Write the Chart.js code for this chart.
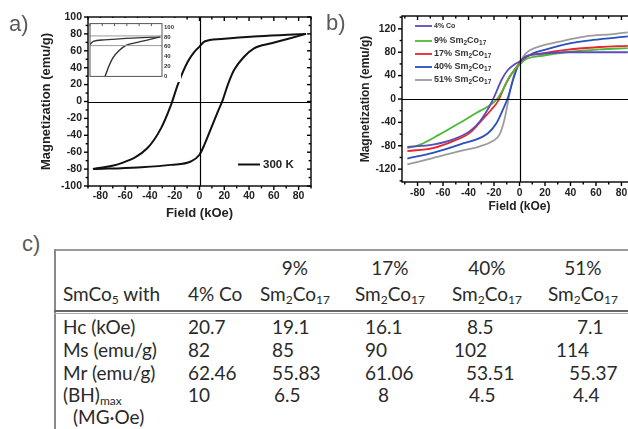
<!DOCTYPE html>
<html>
<head>
<meta charset="utf-8">
<script src="https://cdn.jsdelivr.net/npm/chart.js@4.4.1/dist/chart.umd.min.js"></script>
<style>
  html, body { margin: 0; padding: 0; background: #fff; }
  #page { position: relative; width: 628px; height: 429px; overflow: hidden; background: #fff; }
  canvas { position: absolute; }
  .tag { position: absolute; font-family: "Liberation Sans", Arial, sans-serif; font-size: 22px; color: #5a5a5a; line-height: 1; }
  .cell { position: absolute; font-family: Lato, "Noto Sans", sans-serif; font-size: 19px; color: #2a2a2a; white-space: nowrap; line-height: 22px; }
  .cell sub { font-size: 12px; vertical-align: -3px; line-height: 0; }
  .head { text-align: center; line-height: 26px; }
  #boxTop { position: absolute; left: 54px; top: 249px; width: 580px; height: 0; border-top: 2px solid #9a9a9a; }
  #boxLeft { position: absolute; left: 54px; top: 249px; width: 0; height: 190px; border-left: 2px solid #8a8a8a; }
  #rule { position: absolute; left: 54px; top: 310px; width: 580px; height: 1px; border-top: 2px solid #666; border-bottom: 1px solid #aaa; }
</style>
</head>
<body>
<div id="page">
  <canvas id="chartA" width="320" height="225" style="left:0;top:0"></canvas>
  <canvas id="insetA" width="92" height="64" style="left:89px;top:18px;background:#fff"></canvas>
  <canvas id="chartB" width="310" height="215" style="left:330px;top:0"></canvas>
  <div class="tag" style="left:9px;top:13px">a)</div>
  <div class="tag" style="left:326px;top:12px">b)</div>
  <div class="tag" style="left:22px;top:233px">c)</div>
  <div id="boxTop"></div>
  <div id="boxLeft"></div>
  <div id="rule"></div>
  <div id="table"></div>
</div>
<script>
    'use strict';

    // ===========================================
    // DATA - a) hysteresis loop, 300 K
    // ===========================================
    const fieldUpperA = [-86, -63, -42, -31, -23, -17.5, -9.5, -4, 0, 4, 17.5, 44, 71, 86];
    const magUpperA   = [-80, -73, -55, -31.5, -4, 20, 47, 59, 65, 71, 74, 77, 79, 80];
    const fieldLowerA = [-86, -50, -23, -7, 0, 4, 9.4, 14.8, 18.8, 22.9, 28, 36, 44, 58, 71, 86];
    const magLowerA   = [-80, -78, -75, -71, -63, -51, -31.5, -12, 2, 20, 37.5, 53, 63, 69, 74, 80];
    const xTicksA = [-80, -60, -40, -20, 0, 20, 40, 60, 80];
    const yTicksA = [-100, -80, -60, -40, -20, 0, 20, 40, 60, 80, 100];
    const insetTicks = [0, 20, 40, 60, 80, 100];

    // ===========================================
    // DATA - b) samples
    // ===========================================
    const samplePct   = ['4%', '9%', '17%', '40%', '51%'];
    const samplePhase = ['Co', 'Sm2Co17', 'Sm2Co17', 'Sm2Co17', 'Sm2Co17'];
    const sampleColor = ['#5b4cb8', '#4cb837', '#e8262b', '#2a4fbf', '#9c9c9c'];

    const fieldCo4  = [-88, -68, -52, -39, -31, -23.5, -19.6, -14, -9, -4, 0, 5, 16, 36.6, 85];
    const magCo4    = [-82, -78, -69, -55, -38, -12.5, 5, 33, 50, 59, 64, 73, 77, 80, 80];
    const fieldSm9  = [-88, -78, -63, -47, -34, -23.5, -18, -13, -7.8, -2.6, 0, 5, 18, 36.6, 63, 85];
    const magSm9    = [-84, -78, -61, -41, -24, -11, -1, 16, 39, 53, 59, 68, 74, 80, 85, 87];
    const fieldSm17 = [-88, -68, -52, -39, -29, -22, -17, -10.5, -4, 0, 5, 18, 36.6, 63, 85];
    const magSm17   = [-89, -84, -72, -58, -35, -18, -4, 27, 50, 61, 72, 78, 84, 89, 91];
    const fieldSm40 = [-88, -68, -47, -25, -18, -13, -9, -5, -1.3, 2.6, 10.5, 21, 36.6, 57.5, 85];
    const magSm40   = [-102, -92, -78, -59, -41, -18, 3, 33, 56, 67, 78, 85, 94, 101, 107];
    const fieldSm51 = [-88, -68, -47, -31, -21, -15.7, -11.8, -9.2, -6.5, -3.9, 0, 5, 15.7, 31, 52, 73, 85];
    const magSm51   = [-112, -101, -89, -81, -72, -61, -35, -7, 22, 44, 61, 78, 90, 98, 107, 111, 114];
    const xTicksB = [-80, -60, -40, -20, 0, 20, 40, 60, 80];
    const yTicksB = [-120, -80, -40, 0, 40, 80, 120];

    // ===========================================
    // DATA - c) table
    // ===========================================
    const tableHead = 'SmCo5 with';
    const rowLabels = ['Hc (kOe)', 'Ms (emu/g)', 'Mr (emu/g)', '(BH)<sub>max</sub>'];
    const hc    = [20.7, 19.1, 16.1, 8.5, 7.1];
    const ms    = [82, 85, 90, 102, 114];
    const mr    = [62.46, 55.83, 61.06, 53.51, 55.37];
    const bhMax = [10, 6.5, 8, 4.5, 4.4];

    // layout of the table (pixels)
    const colLeft = [188, 260, 355, 452, 548];
    const cellShift = [[0, 0, 0, 0], [12, 12, 12, 14], [10, 10, 10, 23], [15, 2, 14, 17], [29, 8, 21, 25]];
    const rowY = [327, 350, 373, 395];

    // ===========================================
    // HELPERS
    // ===========================================
    function toXY(xs, ys) {
        return xs.map((x, i) => ({ x: x, y: ys[i] }));
    }

    // digits right after a letter are subscripts (Sm2Co17, SmCo5)
    function subHtml(text) {
        return text.replace(/(?<=[A-Za-z])(\d+)/g, '<sub>$1</sub>');
    }

    function drawRich(ctx, text, x, y, size) {
        const parts = text.split(/(?<=[A-Za-z])(\d+)/);
        parts.forEach((p, i) => {
            if (!p) return;
            const s = i % 2 ? size * 0.72 : size;
            ctx.font = 'bold ' + s + 'px "Liberation Sans", Arial, sans-serif';
            ctx.fillText(p, x, i % 2 ? y + size * 0.3 : y);
            x += ctx.measureText(p).width;
        });
    }

    function fixTicks(values) {
        return scale => { scale.ticks = values.map(v => ({ value: v })); };
    }

    // frame, zero lines, major/minor tick marks
    const framePlugin = {
        id: 'frame',
        afterDatasetsDraw(chart, args, o) {
            const { ctx, chartArea: a } = chart;
            const sx = chart.scales.x, sy = chart.scales.y;
            ctx.save();
            ctx.strokeStyle = o.color || '#000';
            ctx.lineWidth = o.lineWidth || 1.4;
            const line = (x1, y1, x2, y2) => {
                ctx.beginPath(); ctx.moveTo(x1, y1); ctx.lineTo(x2, y2); ctx.stroke();
            };
            if (o.zero) {
                const px = Math.round(sx.getPixelForValue(0)) + 0.5;
                const py = Math.round(sy.getPixelForValue(0)) + 0.5;
                ctx.lineWidth = 1.2;
                line(px, a.top, px, a.bottom);
                line(a.left, py, a.right, py);
                ctx.lineWidth = o.lineWidth || 1.4;
            }
            ctx.strokeRect(a.left, a.top, a.right - a.left, a.bottom - a.top);
            const len = o.tickLen || 4;
            if (o.xMinor) {
                for (let v = Math.ceil(sx.min / o.xMinor) * o.xMinor; v <= sx.max + 1e-9; v += o.xMinor) {
                    const px = sx.getPixelForValue(v);
                    const l = Math.abs(v % o.xMajor) < 1e-6 ? len : len * 0.6;
                    if (o.outer) line(px, a.bottom, px, a.bottom + l);
                    line(px, a.top, px, a.top + l);
                }
            }
            if (o.yMinor) {
                for (let v = Math.ceil(sy.min / o.yMinor) * o.yMinor; v <= sy.max + 1e-9; v += o.yMinor) {
                    const py = sy.getPixelForValue(v);
                    const l = Math.abs(v % o.yMajor) < 1e-6 ? len : len * 0.6;
                    if (o.outer) line(a.left, py, a.left - l, py);
                    line(a.right, py, a.right - l, py);
                }
            }
            ctx.restore();
        }
    };

    const labelFont = (size, weight) => ({ family: '"Liberation Sans", Arial, sans-serif', size: size, weight: weight || 'bold' });
    const noGrid = { display: false, drawTicks: false };

    // ===========================================
    // CHART a)
    // ===========================================
    const legendA = {
        id: 'legendA',
        afterDatasetsDraw(chart) {
            const ctx = chart.ctx;
            ctx.save();
            ctx.strokeStyle = '#111'; ctx.lineWidth = 2;
            ctx.beginPath(); ctx.moveTo(238, 164.5); ctx.lineTo(260, 164.5); ctx.stroke();
            ctx.fillStyle = '#222'; ctx.textBaseline = 'middle';
            ctx.font = 'bold 11.5px "Liberation Sans", Arial, sans-serif';
            ctx.fillText('300 K', 263, 165);
            ctx.restore();
        }
    };

    new Chart(document.getElementById('chartA'), {
        type: 'scatter',
        data: {
            datasets: [
                { data: toXY(fieldUpperA, magUpperA), showLine: true, borderColor: '#111', borderWidth: 2, pointRadius: 0, cubicInterpolationMode: 'monotone' },
                { data: toXY(fieldLowerA, magLowerA), showLine: true, borderColor: '#111', borderWidth: 2, pointRadius: 0, cubicInterpolationMode: 'monotone' }
            ]
        },
        options: {
            responsive: false,
            animation: false,
            layout: { padding: { left: 0, top: 17, right: 9, bottom: 0 } },
            plugins: {
                legend: { display: false },
                tooltip: { enabled: false },
                frame: { zero: true, outer: true, xMinor: 10, xMajor: 20, yMinor: 10, yMajor: 20 }
            },
            scales: {
                x: {
                    type: 'linear', min: -90, max: 90,
                    afterBuildTicks: fixTicks(xTicksA),
                    afterFit: s => { s.height = 39; },
                    grid: noGrid, border: { display: false },
                    ticks: { font: labelFont(10.5), color: '#222', padding: 4, maxRotation: 0 },
                    title: { display: true, text: 'Field (kOe)', font: labelFont(13), color: '#222', padding: { top: 0, bottom: 4 } }
                },
                y: {
                    type: 'linear', min: -100, max: 100,
                    afterBuildTicks: fixTicks(yTicksA),
                    afterFit: s => { s.width = 88; },
                    grid: noGrid, border: { display: false },
                    ticks: { font: labelFont(10.5), color: '#222', padding: 6 },
                    title: { display: true, text: 'Magnetization (emu/g)', font: labelFont(13), color: '#222', padding: { top: 39, bottom: 0 } }
                }
            }
        },
        plugins: [framePlugin, legendA]
    });

    // inset: first quadrant with Ms and Mr levels
    new Chart(document.getElementById('insetA'), {
        type: 'scatter',
        data: {
            datasets: [
                { data: [{ x: 0, y: ms[0] }, { x: 88, y: ms[0] }], showLine: true, borderColor: '#999', borderWidth: 1, pointRadius: 0 },
                { data: [{ x: 0, y: mr[0] }, { x: 88, y: mr[0] }], showLine: true, borderColor: '#999', borderWidth: 1, pointRadius: 0 },
                { data: toXY(fieldUpperA, magUpperA), showLine: true, borderColor: '#333', borderWidth: 1.4, pointRadius: 0, cubicInterpolationMode: 'monotone' },
                { data: toXY(fieldLowerA, magLowerA), showLine: true, borderColor: '#333', borderWidth: 1.4, pointRadius: 0, cubicInterpolationMode: 'monotone' }
            ]
        },
        options: {
            responsive: false,
            animation: false,
            layout: { padding: { left: 1, top: 2, right: 0, bottom: 4 } },
            plugins: {
                legend: { display: false },
                tooltip: { enabled: false },
                frame: { color: '#555', lineWidth: 1, tickLen: 2.5, xMinor: 15, xMajor: 15 }
            },
            scales: {
                x: { type: 'linear', min: 0, max: 88, display: false },
                y: {
                    type: 'linear', position: 'right', min: 0, max: 107,
                    afterBuildTicks: fixTicks(insetTicks),
                    afterFit: s => { s.width = 19; },
                    grid: noGrid, border: { display: false },
                    ticks: { font: labelFont(6), color: '#333', padding: 2 }
                }
            }
        },
        plugins: [framePlugin]
    });

    // ===========================================
    // CHART b)
    // ===========================================
    const fieldsB = [fieldCo4, fieldSm9, fieldSm17, fieldSm40, fieldSm51];
    const magsB = [magCo4, magSm9, magSm17, magSm40, magSm51];
    const legendY = [26, 41, 54, 67, 80];

    const legendB = {
        id: 'legendB',
        afterDatasetsDraw(chart) {
            const ctx = chart.ctx;
            ctx.save();
            ctx.textBaseline = 'middle';
            samplePct.forEach((p, i) => {
                const y = legendY[i];
                ctx.strokeStyle = sampleColor[i]; ctx.lineWidth = 1.8;
                ctx.beginPath(); ctx.moveTo(85, y); ctx.lineTo(102, y); ctx.stroke();
                ctx.fillStyle = '#333';
                drawRich(ctx, p + ' ' + samplePhase[i], 104, y, i === 0 ? 7 : 9);
            });
            ctx.restore();
        }
    };

    new Chart(document.getElementById('chartB'), {
        type: 'scatter',
        data: {
            datasets: fieldsB.map((f, i) => ({
                label: samplePct[i] + ' ' + samplePhase[i],
                data: toXY(f, magsB[i]),
                showLine: true, borderColor: sampleColor[i], borderWidth: 1.8,
                pointRadius: 0, cubicInterpolationMode: 'monotone'
            }))
        },
        options: {
            responsive: false,
            animation: false,
            layout: { padding: { left: 0, top: 16, right: 3, bottom: 0 } },
            plugins: {
                legend: { display: false },
                tooltip: { enabled: false },
                frame: { zero: true, outer: true, xMinor: 10, xMajor: 20, yMinor: 20, yMajor: 40 }
            },
            scales: {
                x: {
                    type: 'linear', min: -92.2, max: 92.2,
                    afterBuildTicks: fixTicks(xTicksB),
                    afterFit: s => { s.height = 33; },
                    grid: noGrid, border: { display: false },
                    ticks: { font: labelFont(10.3), color: '#222', padding: 5, maxRotation: 0 },
                    title: { display: true, text: 'Field (kOe)', font: labelFont(12), color: '#222', padding: { top: 0, bottom: 1 } }
                },
                y: {
                    type: 'linear', min: -142, max: 142,
                    afterBuildTicks: fixTicks(yTicksB),
                    afterFit: s => { s.width = 72; },
                    grid: noGrid, border: { display: false },
                    ticks: { font: labelFont(10.3), color: '#222', padding: 6 },
                    title: { display: true, text: 'Magnetization (emu/g)', font: labelFont(12), color: '#222', padding: { top: 28, bottom: 0 } }
                }
            }
        },
        plugins: [framePlugin, legendB]
    });

    // ===========================================
    // TABLE c)
    // ===========================================
    const table = document.getElementById('table');
    function addCell(html, left, top, cls) {
        const d = document.createElement('div');
        d.className = 'cell' + (cls ? ' ' + cls : '');
        d.style.left = left + 'px';
        d.style.top = top + 'px';
        d.innerHTML = html;
        table.appendChild(d);
        return d;
    }

    addCell(subHtml(tableHead), 63, 294 - 11);
    samplePct.forEach((p, i) => {
        if (samplePhase[i] === 'Co') {
            addCell(p + ' ' + samplePhase[i], colLeft[i], 294 - 11);
        } else {
            addCell(p + '<br>' + subHtml(samplePhase[i]), colLeft[i], 268 - 13, 'head');
        }
    });

    rowLabels.forEach((lab, r) => addCell(lab, 63, rowY[r] - 11));
    addCell('(MG·Oe)', 73, 417 - 11);

    [hc, ms, mr, bhMax].forEach((row, r) => {
        row.forEach((v, c) => addCell(String(v), colLeft[c] + cellShift[c][r], rowY[r] - 11));
    });
</script>
</body>
</html>
